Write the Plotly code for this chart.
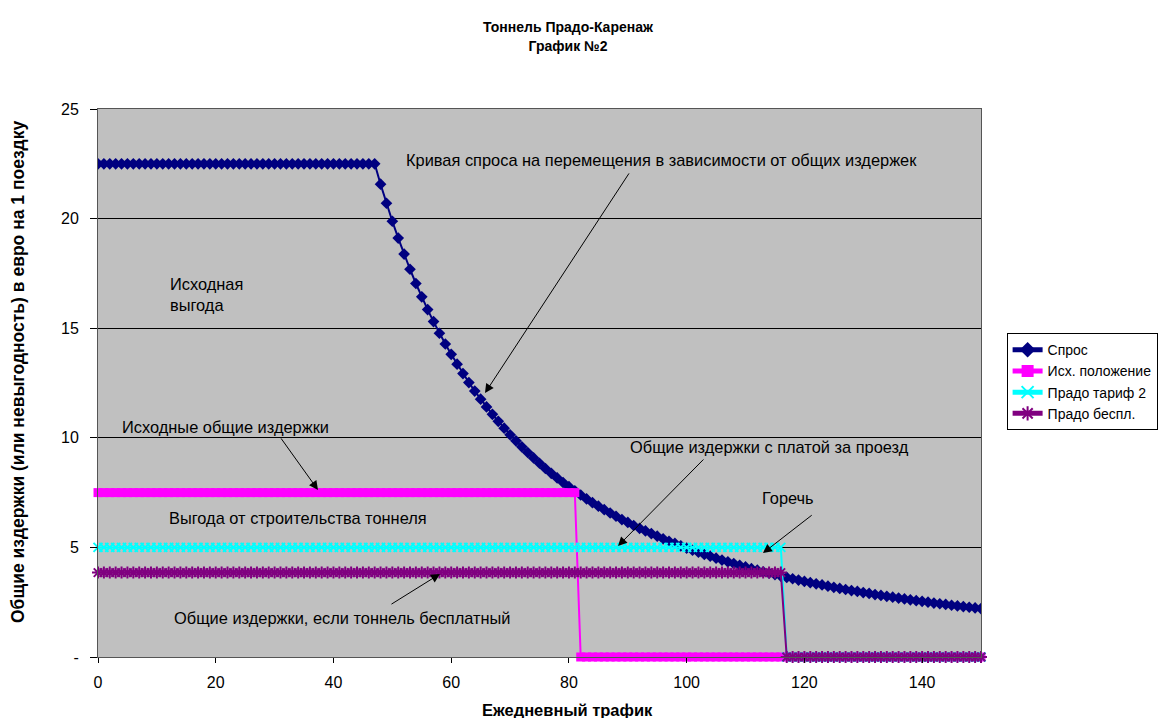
import plotly.graph_objects as go

x_vals = list(range(0, 151))

demand_flat = [22.5] * 48  # x = 0..47
demand_tail = [21.57, 20.70, 19.88, 19.11, 18.38, 17.69, 17.04, 16.43, 15.85, 15.30,
               14.77, 14.28, 13.81, 13.36, 12.93, 12.52, 12.13, 11.76, 11.41, 11.07,
               10.75, 10.44, 10.14, 9.86, 9.59, 9.33, 9.08, 8.84, 8.60, 8.38,
               8.17, 7.96, 7.77, 7.58, 7.39, 7.21, 7.04, 6.88, 6.72, 6.57,
               6.42, 6.27, 6.14, 6.00, 5.87, 5.75, 5.63, 5.51, 5.39, 5.28,
               5.18, 5.07, 4.97, 4.87, 4.78, 4.68, 4.60, 4.51, 4.42, 4.34,
               4.26, 4.18, 4.11, 4.03, 3.96, 3.89, 3.82, 3.76, 3.69, 3.63,
               3.57, 3.51, 3.45, 3.39, 3.34, 3.29, 3.23, 3.18, 3.13, 3.08,
               3.03, 2.99, 2.94, 2.90, 2.85, 2.81, 2.77, 2.73, 2.69, 2.65,
               2.61, 2.57, 2.54, 2.50, 2.46, 2.43, 2.40, 2.36, 2.33, 2.30,
               2.27, 2.24, 2.21]  # x = 48..150
demand = demand_flat + demand_tail

initial = [7.5] * 82 + [0.0] * 69        # x 0..81 at 7.5, then 0
toll2 = [5.0] * 117 + [0.0] * 34         # x 0..116 at 5, then 0
free = [3.85] * 117 + [0.0] * 34         # x 0..116 at 3.85, then 0

series_names = ["Спрос", "Исх. положение", "Прадо тариф 2", "Прадо беспл."]
y_ticks = [0, 5, 10, 15, 20, 25]
y_ticktext = ["-", "5", "10", "15", "20", "25"]
x_ticks = [0, 20, 40, 60, 80, 100, 120, 140]

FONT = "Liberation Sans, Arial, sans-serif"
TXT = 16.4

fig = go.Figure()
fig.add_trace(go.Scatter(x=x_vals, y=demand, name=series_names[0], mode="lines+markers",
                         line=dict(color="#000080", width=2),
                         marker=dict(symbol="diamond", size=9, color="#000080")))
fig.add_trace(go.Scatter(x=x_vals, y=initial, name=series_names[1], mode="lines+markers",
                         line=dict(color="#FF00FF", width=2), cliponaxis=False,
                         marker=dict(symbol="square", size=9, color="#FF00FF")))
fig.add_trace(go.Scatter(x=x_vals, y=toll2, name=series_names[2], mode="lines+markers",
                         line=dict(color="#00FFFF", width=2), cliponaxis=False,
                         marker=dict(symbol="x-thin", size=9, color="#00FFFF",
                                     line=dict(color="#00FFFF", width=2))))
fig.add_trace(go.Scatter(x=x_vals, y=free, name=series_names[3], mode="lines+markers",
                         line=dict(color="#800080", width=2), cliponaxis=False,
                         marker=dict(symbol="asterisk", size=10, color="#800080",
                                     line=dict(color="#800080", width=2))))

txt = dict(size=TXT, color="black", family=FONT)
annotations = [
    dict(x=95.8, y=22.67, text="Кривая спроса на перемещения в зависимости от общих издержек", showarrow=False),
    dict(x=11.9, y=16.56, text="Исходная<br>выгода", showarrow=False, xanchor="left", align="left"),
    dict(x=21.7, y=10.49, text="Исходные общие издержки", showarrow=False),
    dict(x=114.1, y=9.58, text="Общие издержки с платой за проезд", showarrow=False),
    dict(x=34.0, y=6.34, text="Выгода от строительства тоннеля", showarrow=False),
    dict(x=117.2, y=7.25, text="Горечь", showarrow=False),
    dict(x=41.6, y=1.78, text="Общие издержки, если тоннель бесплатный", showarrow=False),
]
arrows = [
    ((90.37, 22.13), (65.74, 12.04)),
    ((30.92, 10.04), (37.37, 7.62)),
    ((103.1, 9.08), (88.33, 5.06)),
    ((121.5, 6.52), (112.96, 4.74)),
    ((49.6, 2.37), (58.09, 3.79)),
]
for a in annotations:
    a["font"] = txt
    a["xref"] = "x"
    a["yref"] = "y"
for (tx, ty), (hx, hy) in arrows:
    annotations.append(dict(x=hx, y=hy, ax=tx, ay=ty, xref="x", yref="y", axref="x", ayref="y",
                            text="", showarrow=True, arrowhead=2, arrowsize=1.8, arrowwidth=1,
                            arrowcolor="black"))

# axis titles (placed as in the original, slightly off plot centre)
annotations.append(dict(x=0.532, y=-0.0967, xref="paper", yref="paper", showarrow=False,
                        text="<b>Ежедневный трафик</b>", font=dict(size=16.5, family=FONT, color="black"),
                        xanchor="center", yanchor="middle"))
annotations.append(dict(x=-0.0906, y=0.520, xref="paper", yref="paper", showarrow=False,
                        text="<b>Общие издержки (или невыгодность) в евро на 1 поездку</b>",
                        textangle=-90, font=dict(size=17.5, family=FONT, color="black"),
                        xanchor="center", yanchor="middle"))

fig.update_layout(
    width=1174, height=718,
    margin=dict(l=90, r=201, t=101, b=69),
    paper_bgcolor="white", plot_bgcolor="#C0C0C0",
    font=dict(family=FONT, size=16, color="black"),
    title=dict(text="<b>Тоннель Прадо-Каренаж<br>График №2</b>", x=0.477, xanchor="center",
               y=0.966, yanchor="top", font=dict(size=14, family=FONT)),
    legend=dict(x=1.029, y=0.591, xanchor="left", yanchor="top", bgcolor="white",
                bordercolor="black", borderwidth=1, font=dict(size=14, family=FONT),
                tracegroupgap=0, itemsizing="constant"),
    annotations=annotations,
    showlegend=True,
)
fig.update_xaxes(range=[0, 150], tickvals=x_ticks, showgrid=False, zeroline=False,
                 showline=True, linecolor="#555555", linewidth=1, mirror=True,
                 ticks="outside", ticklen=5, tickcolor="black", ticklabelstandoff=6,
                 tickfont=dict(size=16, family=FONT))
fig.update_yaxes(range=[0, 25], tickvals=y_ticks, ticktext=y_ticktext, showgrid=True,
                 gridcolor="black", gridwidth=1, zeroline=False,
                 showline=True, linecolor="#555555", linewidth=1, mirror=True,
                 ticks="outside", ticklen=7, tickcolor="black", ticklabelstandoff=8,
                 tickfont=dict(size=16, family=FONT))

fig.write_html("out.html")
